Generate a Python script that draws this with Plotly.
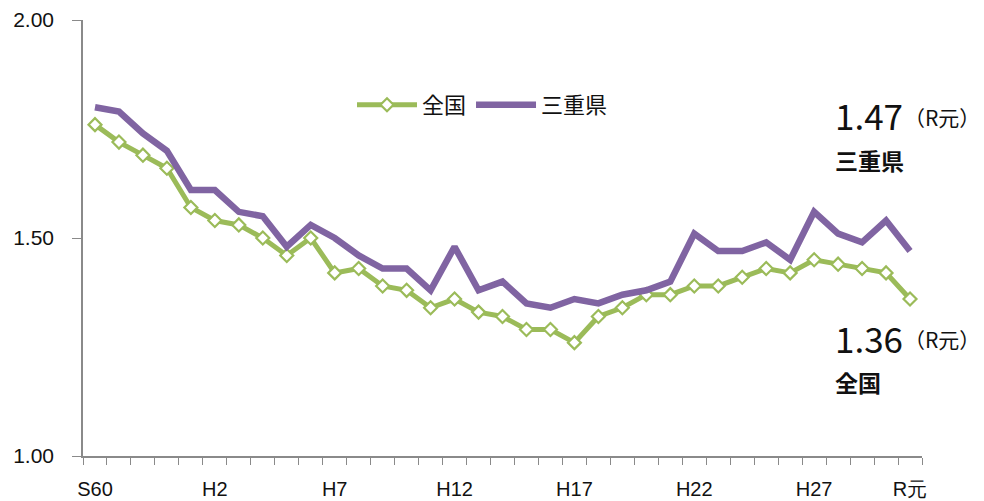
import plotly.graph_objects as go

categories = ["S60", "S61", "S62", "S63", "H1", "H2", "H3", "H4", "H5", "H6",
              "H7", "H8", "H9", "H10", "H11", "H12", "H13", "H14", "H15", "H16",
              "H17", "H18", "H19", "H20", "H21", "H22", "H23", "H24", "H25", "H26",
              "H27", "H28", "H29", "H30", "R元"]
national = [1.76, 1.72, 1.69, 1.66, 1.57, 1.54, 1.53, 1.50, 1.46, 1.50,
            1.42, 1.43, 1.39, 1.38, 1.34, 1.36, 1.33, 1.32, 1.29, 1.29,
            1.26, 1.32, 1.34, 1.37, 1.37, 1.39, 1.39, 1.41, 1.43, 1.42,
            1.45, 1.44, 1.43, 1.42, 1.36]
mie = [1.80, 1.79, 1.74, 1.70, 1.61, 1.61, 1.56, 1.55, 1.48, 1.53,
       1.50, 1.46, 1.43, 1.43, 1.38, 1.48, 1.38, 1.40, 1.35, 1.34,
       1.36, 1.35, 1.37, 1.38, 1.40, 1.51, 1.47, 1.47, 1.49, 1.45,
       1.56, 1.51, 1.49, 1.54, 1.47]
tick_labels = ["S60", "H2", "H7", "H12", "H17", "H22", "H27", "R元"]
y_ticks = [1.00, 1.50, 2.00]

xs = list(range(len(categories)))
tickvals = [categories.index(t) for t in tick_labels]

GREEN = "#9BBB59"
PURPLE = "#8064A2"
CJK = "Noto Sans CJK JP"
SANS = "Liberation Sans, Arial, sans-serif"
AXIS = "#8a8a8a"

L, R, T, B = 83, 62, 20, 45
W, H = 984, 501
PW, PH = W - L - R, H - T - B

def px_x(pix):
    return (pix - L) / PW

def px_y(pix):
    return (H - B - pix) / PH

fig = go.Figure()
fig.add_trace(go.Scatter(
    x=xs, y=national, name="全国", mode="lines+markers",
    line=dict(color=GREEN, width=5),
    marker=dict(symbol="diamond", size=10, color="white",
                line=dict(color=GREEN, width=2.2)),
))
fig.add_trace(go.Scatter(
    x=xs, y=mie, name="三重県", mode="lines",
    line=dict(color=PURPLE, width=6.5),
))

fig.update_layout(
    width=W, height=H,
    margin=dict(l=L, r=R, t=T, b=B, autoexpand=False),
    plot_bgcolor="white", paper_bgcolor="white",
    showlegend=True,
    legend=dict(orientation="h", x=px_x(352), y=px_y(105),
                xanchor="left", yanchor="middle",
                font=dict(family=CJK, size=22, color="#111"),
                itemwidth=60,
                bgcolor="rgba(0,0,0,0)", tracegroupgap=0),
    xaxis=dict(
        range=[-0.5, len(categories) - 0.5],
        tickmode="array", tickvals=tickvals, ticktext=tick_labels,
        showgrid=False, zeroline=False, automargin=False,
        showline=True, linecolor=AXIS, linewidth=1.5,
        ticks="outside", ticklen=0, tickcolor=AXIS,
        ticklabelstandoff=14,
        tickfont=dict(family=SANS, size=20, color="#111"),
        minor=dict(ticks="outside", tick0=-0.5, dtick=1, ticklen=7,
                   tickcolor=AXIS, tickwidth=1.3, showgrid=False),
    ),
    yaxis=dict(
        range=[1.0, 2.0],
        tickmode="array", tickvals=y_ticks,
        ticktext=[f"{v:.2f}" for v in y_ticks],
        showgrid=False, zeroline=False, automargin=False,
        showline=True, linecolor=AXIS, linewidth=1.5,
        ticks="outside", ticklen=9, tickcolor=AXIS, tickwidth=1.3,
        ticklabelstandoff=14,
        tickfont=dict(family=SANS, size=21, color="#111"),
    ),
)

def add_value_label(value, name, y_val, y_name):
    fig.add_annotation(
        xref="paper", yref="paper", x=px_x(833), y=px_y(y_val),
        xanchor="left", yanchor="middle", showarrow=False,
        text=f"{value:.2f}",
        font=dict(family=CJK, color="#111", size=35),
    )
    fig.add_annotation(
        xref="paper", yref="paper", x=px_x(902), y=px_y(y_val + 2),
        xanchor="left", yanchor="middle", showarrow=False,
        text="（R元）",
        font=dict(family=CJK, color="#111", size=21),
    )
    fig.add_annotation(
        xref="paper", yref="paper", x=px_x(833), y=px_y(y_name),
        xanchor="left", yanchor="middle", showarrow=False,
        text=f"<b>{name}</b>",
        font=dict(family=CJK, color="#111", size=23),
    )

add_value_label(mie[-1], "三重県", 115, 160)
add_value_label(national[-1], "全国", 337, 382)

fig.write_html(
    "out.html",
    config={"displayModeBar": False},
    post_script="document.body.style.margin='0';document.body.style.overflow='hidden';",
)
